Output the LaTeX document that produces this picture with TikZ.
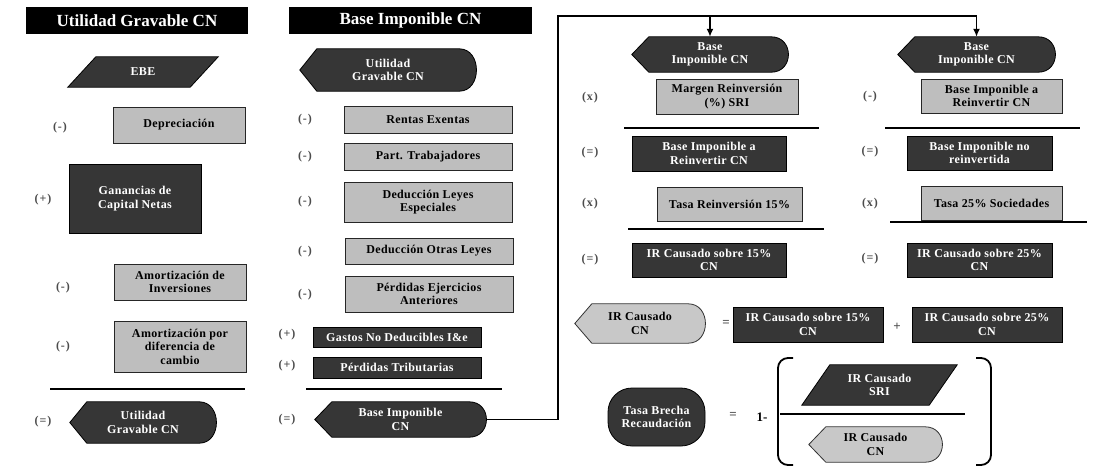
\documentclass[tikz,border=0pt]{standalone}
\usepackage{fontspec}
\setmainfont{Liberation Serif}
\newfontfamily\boxfont[LetterSpace=3]{Liberation Serif}
\newfontfamily\opfont[LetterSpace=8]{Liberation Serif}
\usetikzlibrary{arrows.meta}
\pgfdeclarelayer{bg}
\pgfsetlayers{bg,main}
\definecolor{darkfill}{HTML}{363636}
\definecolor{grayfill}{HTML}{BEBEBE}
\definecolor{lightfill}{HTML}{C8C8C8}
\newcommand\dshape[2]{\begin{pgfonlayer}{bg}\path[#2] (#1.west) -- ([xshift=17]#1.north west) -- ([xshift=-17]#1.north east) .. controls ([xshift=6]#1.north east) and ([xshift=6]#1.south east) .. ([xshift=-17]#1.south east) -- ([xshift=17]#1.south west) -- cycle;\end{pgfonlayer}}
\newcommand\pgram[2]{\begin{pgfonlayer}{bg}\path[#2] ([xshift=28]#1.north west) -- (#1.north east) -- ([xshift=-28]#1.south east) -- (#1.south west) -- cycle;\end{pgfonlayer}}
\tikzset{
  txt/.style={font=\boxfont\bfseries\fontsize{12}{13.5}\selectfont, align=center, inner sep=1pt},
  title/.style={fill=black, text=white, font=\bfseries\fontsize{17}{19}\selectfont, inner sep=0pt},
  darkbox/.style={txt, fill=darkfill, draw=black, line width=0.8pt, text=white},
  graybox/.style={txt, fill=grayfill, draw=black!85, line width=0.8pt, text=black},
  dispnode/.style={txt, text=white},
  displight/.style={txt, text=black},
  dfill/.style={fill=darkfill, draw=black, line width=0.8pt},
  lfill/.style={fill=lightfill, draw=black!80, line width=0.8pt},
  op/.style={font=\opfont\bfseries\fontsize{12}{13}\selectfont, text=black!70, inner sep=0pt},
  sym/.style={font=\bfseries\fontsize{13}{14}\selectfont, text=black!70, inner sep=0pt},
  rule/.style={line width=1.8pt},
  conn/.style={line width=1.8pt},
  tip/.style={-{Latex[length=8pt,width=7pt]}},
}
\begin{document}
\begin{tikzpicture}[x=1pt,y=-1pt]
\useasboundingbox (0,0) rectangle (1103,466);
% ---------- column 1
\node[title, minimum width=222, minimum height=27] (t1) at (137,20.5) {Utilidad Gravable CN};
\node[dispnode, minimum width=150, minimum height=30] (ebe) at (143,72) {EBE};
\pgram{ebe}{dfill}
\node[op] (o11) at (60,128) {(-)};
\node[graybox, minimum width=132, minimum height=36] (dep) at (179,125) {Depreciación};
\node[op] (o12) at (43,200) {(+)};
\node[darkbox, minimum width=132, minimum height=69] (gan) at (135,198.5) {Ganancias de\\Capital Netas};
\node[op] (o13) at (63,288) {(-)};
\node[graybox, minimum width=132, minimum height=36] (ami) at (180,282) {Amortización de\\Inversiones};
\node[op] (o14) at (63,347) {(-)};
\node[graybox, minimum width=132, minimum height=51] (amd) at (180,346.5) {Amortización por\\diferencia de\\cambio};
\draw[rule] (50,389) -- (245,389);
\node[op] (o15) at (43,422) {(=)};
\node[dispnode, minimum width=146, minimum height=41] (ugc) at (143,422.5) {Utilidad\\Gravable CN};
\dshape{ugc}{dfill}
% ---------- column 2
\node[title, minimum width=243, minimum height=27] (t2) at (410.5,20.5) {Base Imponible CN};
\node[dispnode, minimum width=176, minimum height=42] (ugc2) at (388,70) {Utilidad\\Gravable CN};
\dshape{ugc2}{dfill}
\node[op] (o21) at (305,120) {(-)};
\node[graybox, minimum width=168, minimum height=27] (re) at (428,119.5) {Rentas Exentas};
\node[op] (o22) at (305,157) {(-)};
\node[graybox, minimum width=168, minimum height=27] (pt) at (428,156.5) {Part. Trabajadores};
\node[op] (o23) at (305,202) {(-)};
\node[graybox, minimum width=168, minimum height=40] (dle) at (428,202) {Deducción Leyes\\Especiales};
\node[op] (o24) at (305,252) {(-)};
\node[graybox, minimum width=168, minimum height=26] (dol) at (429,251) {Deducción Otras Leyes};
\node[op] (o25) at (305,295) {(-)};
\node[graybox, minimum width=168, minimum height=36] (pea) at (429,294) {Pérdidas Ejercicios\\Anteriores};
\node[op] (o26) at (287,335) {(+)};
\node[darkbox, minimum width=168, minimum height=20] (gnd) at (397,337) {Gastos No Deducibles I\&e};
\node[op] (o27) at (287,366) {(+)};
\node[darkbox, minimum width=168, minimum height=21] (ptr) at (397,367.5) {Pérdidas Tributarias};
\draw[rule] (306,389) -- (502,389);
\node[op] (o28) at (287,420) {(=)};
\node[dispnode, minimum width=171, minimum height=35] (bic) at (400.5,419.5) {Base Imponible\\CN};
\dshape{bic}{dfill}
% ---------- column 3
\node[dispnode, minimum width=156, minimum height=35] (bi3) at (710,54.5) {Base\\Imponible CN};
\dshape{bi3}{dfill}
\node[op] (o31) at (590,98) {(x)};
\node[graybox, minimum width=142, minimum height=35] (mr) at (727,96.5) {Margen Reinversión\\(\%) SRI};
\draw[rule] (624,128) -- (819,128);
\node[op] (o32) at (590,153) {(=)};
\node[darkbox, minimum width=154, minimum height=35] (bir) at (709,153.5) {Base Imponible a\\Reinvertir CN};
\node[op] (o33) at (590,204) {(x)};
\node[graybox, minimum width=145, minimum height=34] (tr) at (729.5,204) {Tasa Reinversión 15\%};
\draw[rule] (628,229) -- (824,229);
\node[op] (o34) at (590,260) {(=)};
\node[darkbox, minimum width=154, minimum height=34] (ir15) at (709,260) {IR Causado sobre 15\%\\CN};
% ---------- column 4
\node[dispnode, minimum width=157, minimum height=35] (bi4) at (976.5,54.5) {Base\\Imponible CN};
\dshape{bi4}{dfill}
\node[op] (o41) at (870,97) {(-)};
\node[graybox, minimum width=141, minimum height=34] (bir4) at (991.5,96) {Base Imponible a\\Reinvertir CN};
\draw[rule] (885,128) -- (1080,128);
\node[op] (o42) at (870,152) {(=)};
\node[darkbox, minimum width=145, minimum height=34] (bnr) at (979.5,153) {Base Imponible no\\reinvertida};
\node[op] (o43) at (870,204) {(x)};
\node[graybox, minimum width=141, minimum height=34] (t25) at (991.5,203) {Tasa 25\% Sociedades};
\draw[rule] (890,222) -- (1087,222);
\node[op] (o44) at (870,259) {(=)};
\node[darkbox, minimum width=145, minimum height=34] (ir25) at (979.5,260) {IR Causado sobre 25\%\\CN};
% ---------- bottom
\node[displight, minimum width=130, minimum height=39] (irc) at (640,323.5) {IR Causado\\CN};
\dshape{irc}{lfill}
\node[sym] (eq1) at (726,323) {=};
\node[darkbox, minimum width=150, minimum height=35] (ir15b) at (808,324.5) {IR Causado sobre 15\%\\CN};
\node[sym] (pl) at (897,327) {+};
\node[darkbox, minimum width=150, minimum height=35] (ir25b) at (987,324.5) {IR Causado sobre 25\%\\CN};
\node[darkbox, rounded corners=24, minimum width=97, minimum height=58] (tbr) at (656.5,417) {Tasa Brecha\\Recaudación};
\node[sym] (eq2) at (733,415) {=};
\node[sym, text=black] (one) at (762,417) {1-};
\draw[line width=1.2pt] (780,414) -- (965,414);
\draw[line width=1.8pt, rounded corners=10] (793,358) -- (778,358) -- (778,465) -- (793,465);
\draw[line width=1.8pt, rounded corners=10] (976,358) -- (991,358) -- (991,465) -- (976,465);
\node[dispnode, minimum width=155, minimum height=40] (irsri) at (879.5,385) {IR Causado\\SRI};
\pgram{irsri}{dfill}
\node[displight, minimum width=133, minimum height=35] (ircn) at (875.5,444.5) {IR Causado\\CN};
\dshape{ircn}{lfill}
% ---------- connector
\coordinate (cA) at (558,16);
\coordinate (cB) at (bi4.north |- cA);
\coordinate (cC) at (bi3.north |- cA);
\draw[conn] (bic.east) -| (cA) -- (cB);
\draw[conn, tip] (cB) -- (bi4.north);
\draw[conn, tip] (cC) -- (bi3.north);
\end{tikzpicture}
\end{document}
